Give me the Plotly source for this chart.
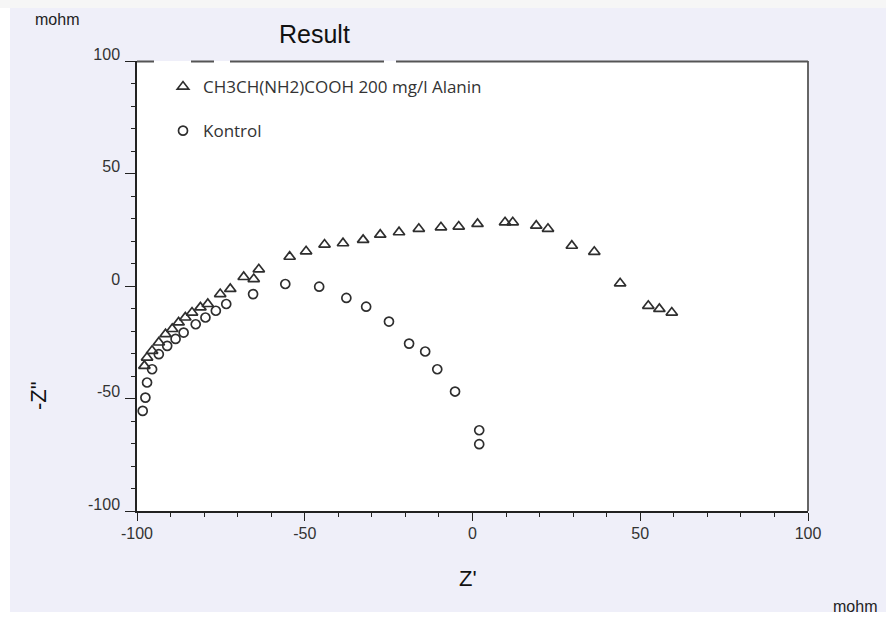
import plotly.graph_objects as go

# ---- data ----
alanin_x = [-97.8, -97.0, -95.5, -93.5, -91.5, -89.5, -87.6, -85.6, -83.6, -81.1,
            -78.9, -75.2, -72.2, -68.2, -65.2, -63.7, -54.5, -49.6, -44.1, -38.6,
            -32.6, -27.5, -21.9, -16.0, -9.4, -4.1, 1.5, 9.7, 12.0, 19.0,
            22.5, 29.6, 36.3, 44.0, 52.4, 55.7, 59.4]
alanin_y = [-35.5, -31.8, -28.8, -25.1, -21.4, -19.1, -16.2, -14.0, -11.8, -9.5,
            -8.0, -3.6, -1.3, 4.0, 3.1, 7.4, 13.0, 15.4, 18.4, 19.0,
            20.5, 22.8, 23.9, 25.4, 26.1, 26.4, 27.6, 28.3, 28.3, 26.8,
            25.4, 17.9, 15.2, 1.2, -8.8, -10.2, -11.8]

kontrol_x = [-98.3, -97.5, -97.0, -95.5, -93.5, -91.0, -88.5, -86.1, -82.5, -79.6,
             -76.5, -73.4, -65.4, -55.8, -45.7, -37.6, -31.7, -24.9, -18.9, -14.1,
             -10.5, -5.2, 2.0, 2.0]
kontrol_y = [-55.5, -49.6, -42.9, -37.0, -30.3, -26.6, -23.5, -20.7, -17.0, -14.0,
             -11.0, -8.0, -3.6, 0.9, -0.3, -5.3, -9.2, -15.8, -25.6, -29.1,
             -37.0, -46.9, -64.1, -70.3]

tick_vals = [-100, -50, 0, 50, 100]
tick_text = ["-100", "-50", "0", "50", "100"]

series_names = ["CH3CH(NH2)COOH 200 mg/l Alanin", "Kontrol"]

# ---- layout geometry ----
W, H = 886, 628
ML, MR, MT, MB = 137, 78, 61, 117
PW, PH = W - ML - MR, H - MT - MB

def px(x):
    return (x - ML) / PW

def py(y):
    return 1 - (y - MT) / PH

mark_color = "#2e2e2e"
sans = "Liberation Sans, Arial, sans-serif"

fig = go.Figure()
fig.add_trace(go.Scatter(
    x=alanin_x, y=alanin_y, mode="markers", name=series_names[0],
    legendgroup="a",
    marker=dict(symbol="triangle-up-open", size=10, color=mark_color,
                line=dict(width=1.7, color=mark_color)),
))
fig.add_trace(go.Scatter(
    x=kontrol_x, y=kontrol_y, mode="markers", name=series_names[1],
    legendgroup="k",
    marker=dict(symbol="circle-open", size=9, color=mark_color,
                line=dict(width=1.7, color=mark_color)),
))

axis_common = dict(
    range=[-100, 100], tickvals=tick_vals, ticktext=tick_text,
    showline=True, linecolor="#222222", linewidth=1.5,
    ticks="outside", tickcolor="#222222", tickwidth=1.2,
    showgrid=False, zeroline=False,
    tickfont=dict(family=sans, size=16, color="#333333"),
    minor=dict(dtick=10, ticks="outside", ticklen=4, tickcolor="#222222", tickwidth=1),
    fixedrange=True,
)

fig.update_xaxes(**axis_common, ticklen=8, ticklabelstandoff=-1)
fig.update_yaxes(**axis_common, ticklen=10, ticklabelshift=-7, ticklabelstandoff=2)

shapes = []
# white strips around the lavender panel
shapes.append(dict(type="rect", xref="paper", yref="paper", x0=px(0), x1=px(W),
                   y0=py(612), y1=py(H), fillcolor="white", line_width=0, layer="below"))
shapes.append(dict(type="rect", xref="paper", yref="paper", x0=px(0), x1=px(10),
                   y0=py(0), y1=py(H), fillcolor="white", line_width=0, layer="below"))
shapes.append(dict(type="rect", xref="paper", yref="paper", x0=px(0), x1=px(W),
                   y0=py(0), y1=py(8), fillcolor="#f6f6f6", line_width=0, layer="below"))
# right frame line
shapes.append(dict(type="line", xref="paper", yref="paper", x0=1, x1=1, y0=0, y1=1,
                   line=dict(color="#666666", width=2)))
# top frame line (broken as in the scan), drawn as one path
ytop = py(61.5)
segs = [(137, 154), (191, 214), (230, 384), (396, 808)]
path = " ".join(f"M {px(a):.5f},{ytop:.5f} L {px(b):.5f},{ytop:.5f}" for a, b in segs)
shapes.append(dict(type="path", xref="paper", yref="paper", path=path,
                   line=dict(color="#555555", width=2)))

def note(text, x, y, size, angle=0, color="#111111"):
    return dict(text=text, x=px(x), y=py(y), xref="paper", yref="paper",
                xanchor="center", yanchor="middle", textangle=angle,
                showarrow=False, font=dict(family=sans, size=size, color=color))

annotations = [
    note("Result", 314, 34, 25),
    note("mohm", 57, 19, 16, color="#222222"),
    note("mohm", 855, 606, 16, color="#222222"),
    note("Z'", 468, 578, 22),
    note('-Z"', 38, 396, 22, angle=-90),
]

fig.update_layout(
    width=W, height=H,
    margin=dict(l=ML, r=MR, t=MT, b=MB, pad=0),
    paper_bgcolor="#efeff9", plot_bgcolor="white",
    showlegend=True,
    legend=dict(x=px(163), y=py(69), xanchor="left", yanchor="top",
                bgcolor="rgba(0,0,0,0)", borderwidth=0,
                traceorder="grouped", tracegroupgap=19,
                font=dict(family="Open Sans, sans-serif", size=17, color="#333333")),
    shapes=shapes, annotations=annotations,
)

fig.write_html("out.html")
